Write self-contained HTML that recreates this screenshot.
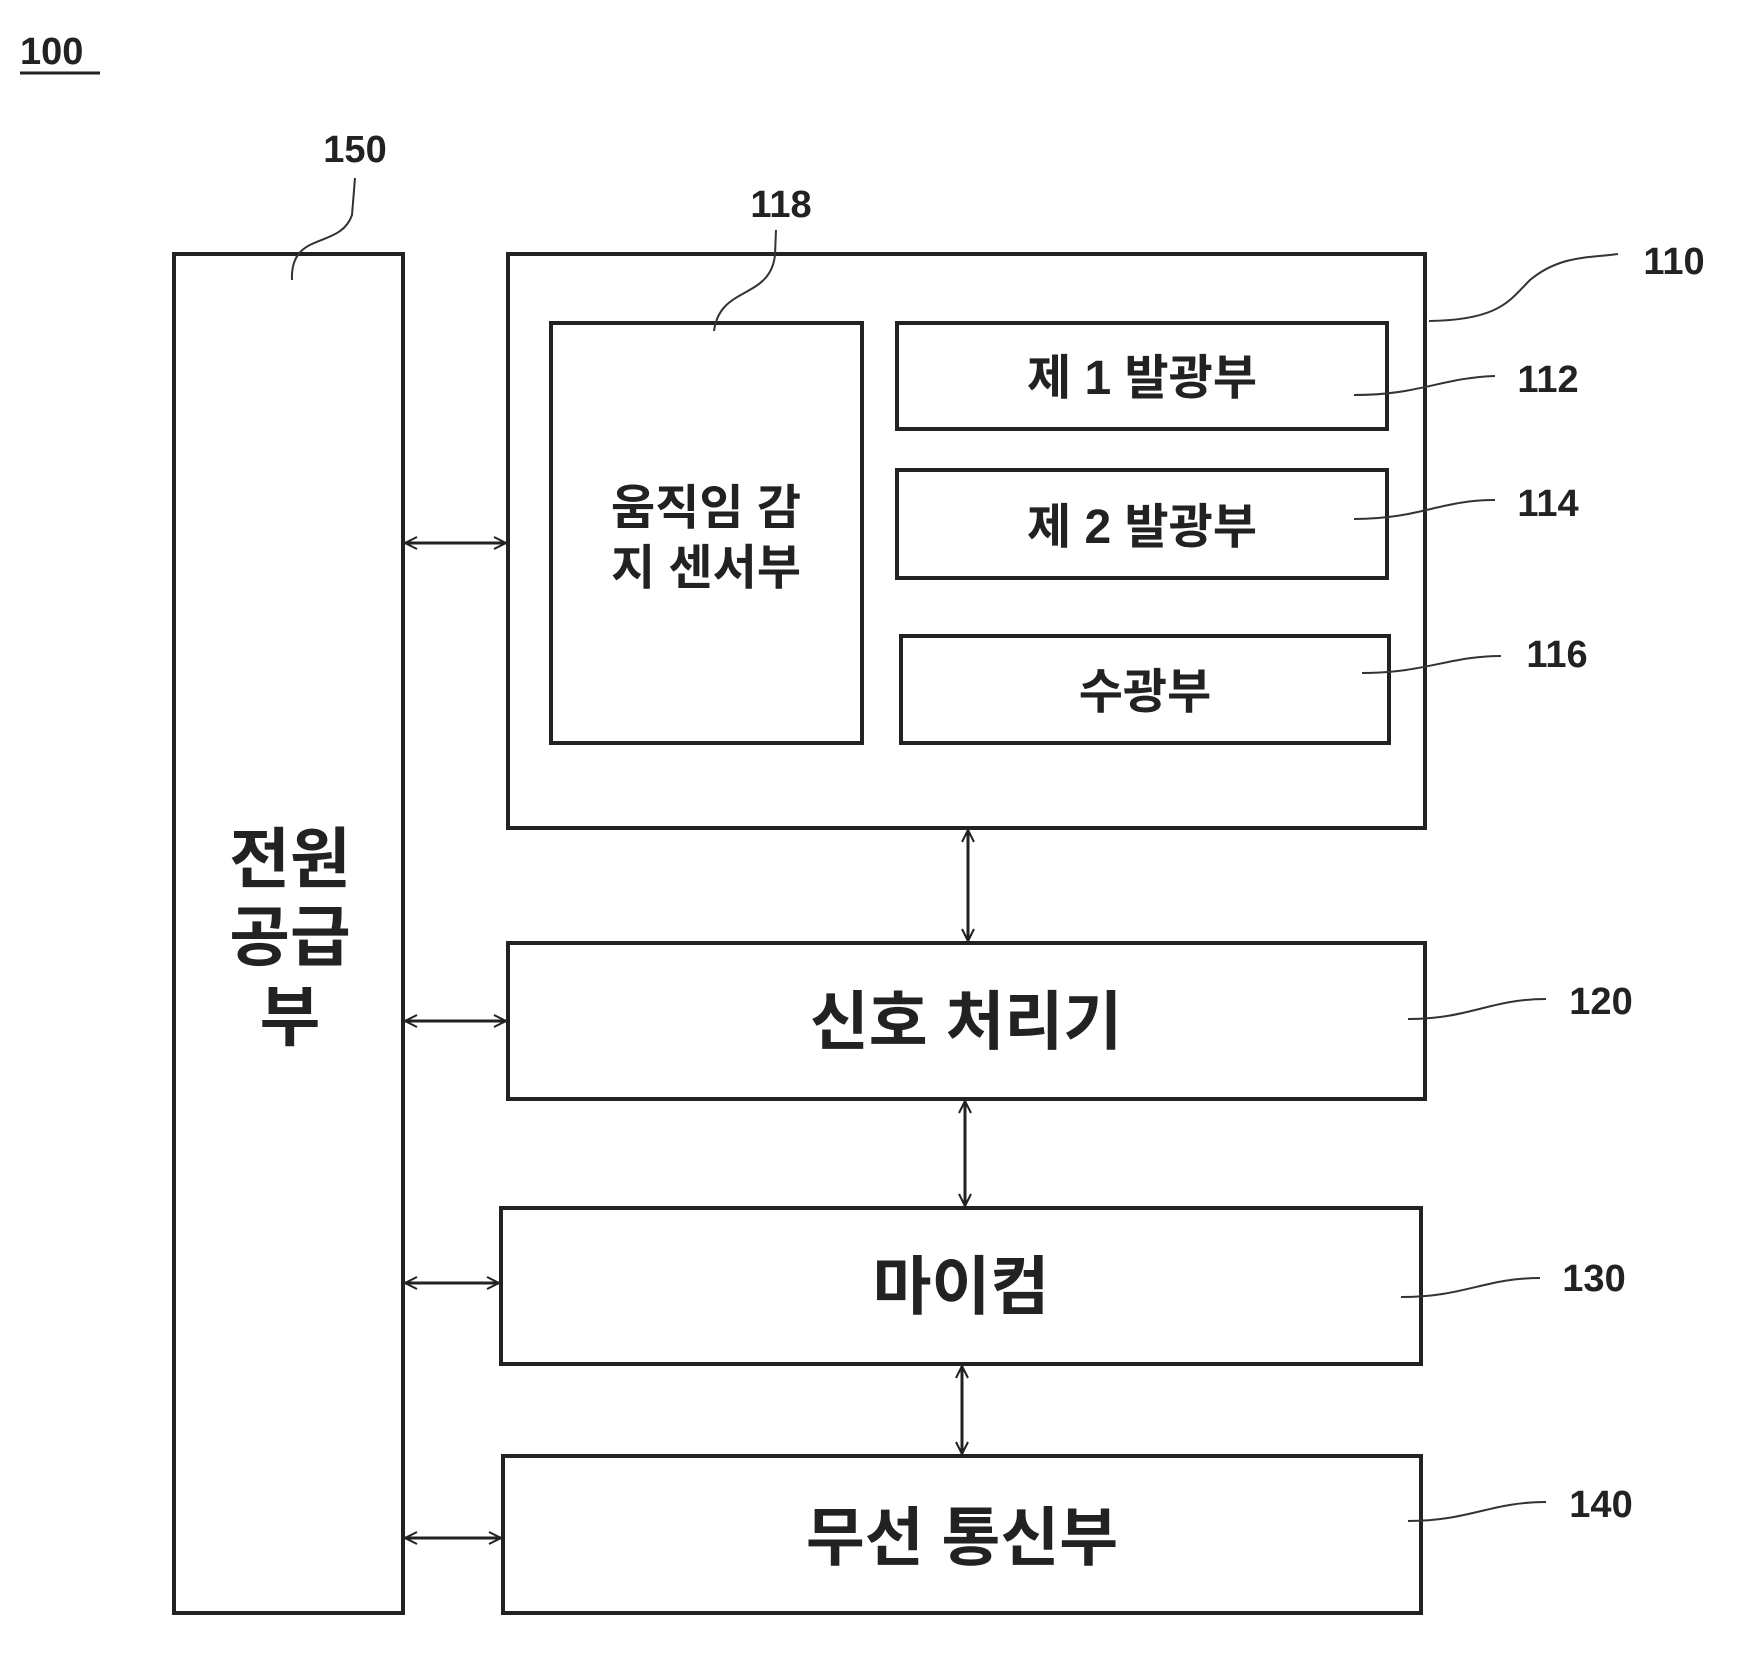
<!DOCTYPE html>
<html><head><meta charset="utf-8"><style>
html,body{margin:0;padding:0;background:#fff}
svg{display:block}
text{font-family:"Liberation Sans","Noto Sans CJK KR","NanumGothic",sans-serif;font-weight:bold;fill:#222}
.n{font-size:38px}
</style></head><body>
<svg width="1741" height="1656" viewBox="0 0 1741 1656" xmlns="http://www.w3.org/2000/svg">
<defs>
<marker id="a" viewBox="0 0 14 14" refX="13" refY="7" markerWidth="14" markerHeight="14" markerUnits="userSpaceOnUse" orient="auto-start-reverse">
<path d="M1,1 L13,7 L1,13" fill="none" stroke="#222" stroke-width="2"/>
</marker>
</defs>
<g fill="none" stroke="#222" stroke-width="4">
<rect x="174" y="254" width="229" height="1359"/>
<rect x="508" y="254" width="917" height="574"/>
<rect x="551" y="323" width="311" height="420"/>
<rect x="897" y="323" width="490" height="106"/>
<rect x="897" y="470" width="490" height="108"/>
<rect x="901" y="636" width="488" height="107"/>
<rect x="508" y="943" width="917" height="156"/>
<rect x="501" y="1208" width="920" height="156"/>
<rect x="503" y="1456" width="918" height="157"/>
</g>
<g stroke="#222" stroke-width="3" marker-start="url(#a)" marker-end="url(#a)">
<line x1="405" y1="543" x2="506" y2="543"/>
<line x1="405" y1="1021" x2="506" y2="1021"/>
<line x1="405" y1="1283" x2="499" y2="1283"/>
<line x1="405" y1="1538" x2="501" y2="1538"/>
<line x1="968" y1="830" x2="968" y2="941"/>
<line x1="965" y1="1101" x2="965" y2="1206"/>
<line x1="962" y1="1366" x2="962" y2="1454"/>
</g>
<g fill="none" stroke="#333" stroke-width="2">
<path d="M292,280 C290,230 340,250 352,215 L355,178"/>
<path d="M714,331 C720,285 770,300 775,255 L776,230"/>
<path d="M1429,321 C1500,320 1510,300 1530,280 C1560,255 1590,258 1618,254"/>
<path d="M1354,395 C1420,395 1440,378 1495,376"/>
<path d="M1354,519 C1420,519 1440,500 1495,500"/>
<path d="M1362,673 C1425,673 1450,656 1501,656"/>
<path d="M1408,1019 C1470,1019 1490,999 1546,999"/>
<path d="M1401,1297 C1465,1297 1485,1278 1540,1278"/>
<path d="M1408,1521 C1470,1521 1490,1502 1546,1502"/>
</g>
<text class="n" x="20" y="64">100</text>
<line x1="20" y1="73" x2="100" y2="73" stroke="#222" stroke-width="3"/>
<g class="n" text-anchor="middle">
<text class="n" x="355" y="162">150</text>
<text class="n" x="781" y="217">118</text>
<text class="n" x="1674" y="274">110</text>
<text class="n" x="1548" y="392">112</text>
<text class="n" x="1548" y="516">114</text>
<text class="n" x="1557" y="667">116</text>
<text class="n" x="1601" y="1014">120</text>
<text class="n" x="1594" y="1291">130</text>
<text class="n" x="1601" y="1517">140</text>
</g>
<g text-anchor="middle">
<text x="706" y="524" font-size="48">움직임 감</text>
<text x="706" y="584" font-size="48">지 센서부</text>
<text x="1142" y="394" font-size="48">제 1 발광부</text>
<text x="1142" y="543" font-size="48">제 2 발광부</text>
<text x="1145" y="708" font-size="48">수광부</text>
<text x="966" y="1044" font-size="64">신호 처리기</text>
<text x="961" y="1309" font-size="64">마이컴</text>
<text x="962" y="1560" font-size="64">무선 통신부</text>
<text x="290" y="882" font-size="66">전원</text>
<text x="290" y="960" font-size="66">공급</text>
<text x="290" y="1040" font-size="66">부</text>
</g>
</svg>
</body></html>
